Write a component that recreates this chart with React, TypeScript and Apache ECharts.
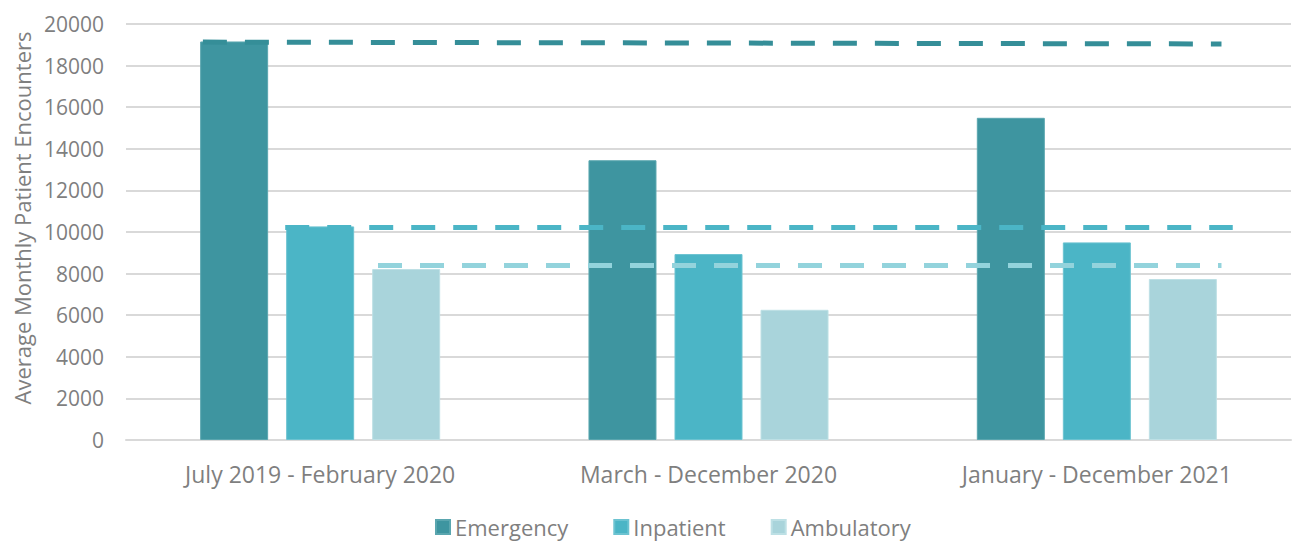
import React, { useEffect, useRef } from "react";
import * as echarts from "echarts";

const categories = ["July 2019 - February 2020", "March - December 2020", "January - December 2021"];
const emergency = [19160, 13450, 15490];
const inpatient = [10270, 8940, 9500];
const ambulatory = [8220, 6260, 7740];
const emergencyBaseline = [19130, 19040];
const inpatientBaseline = [10220, 10220];
const ambulatoryBaseline = [8390, 8390];
const yTicks = { min: 0, max: 20000, interval: 2000 };

const FONT = "'Open Sans', sans-serif";
const GRAY = "#7f7f7f";

export default function App() {
  const ref = useRef<HTMLDivElement>(null);
  useEffect(() => {
    document.body.style.margin = "0";
    const chart = echarts.init(ref.current!, null, { renderer: "svg" });
    const lineSeries = (name: string, vals: number[], x0: number, x1: number, color: string) => ({
      name,
      type: "line",
      xAxisIndex: 1,
      showSymbol: false,
      symbol: "none",
      data: [[x0, vals[0]], [x1, vals[1]]],
      lineStyle: { color, width: 5, type: [24, 18] },
      z: 5,
      silent: true,
    });
    chart.setOption({
      animation: false,
      textStyle: { fontFamily: FONT },
      grid: { left: 126, right: 3, top: 24, bottom: 102, containLabel: false },
      legend: {
        data: ["Emergency", "Inpatient", "Ambulatory"],
        top: 516,
        left: 435,
        icon: "rect",
        itemWidth: 14,
        itemHeight: 14,
        itemGap: 45,
        padding: 0,
        textStyle: { fontSize: 22, color: GRAY, fontFamily: FONT },
      },
      xAxis: [
        {
          type: "category",
          data: categories,
          axisLine: { show: true, lineStyle: { color: "#d9d9d9", width: 2 } },
          axisTick: { show: false },
          axisLabel: { fontSize: 23, color: GRAY, margin: 22, fontFamily: FONT },
        },
        {
          type: "value",
          min: -0.5,
          max: 2.5,
          show: false,
        },
      ],
      yAxis: {
        type: "value",
        min: yTicks.min,
        max: yTicks.max,
        interval: yTicks.interval,
        name: "Average Monthly Patient Encounters",
        nameLocation: "middle",
        nameGap: 92,
        nameTextStyle: { fontSize: 22, color: GRAY, fontFamily: FONT, padding: [0, 0, 0, 28] },
        axisLine: { show: false },
        axisTick: { show: false },
        axisLabel: { fontSize: 21, color: GRAY, margin: 22, fontFamily: FONT, formatter: (v: number) => String(v) },
        splitLine: { lineStyle: { color: "#d9d9d9", width: 2 } },
      },
      series: [
        {
          name: "Emergency",
          type: "bar",
          data: emergency,
          barWidth: 68,
          barGap: "26.5%",
          itemStyle: { color: "#3e95a0", borderColor: "#5aa6af", borderWidth: 1 },
        },
        {
          name: "Inpatient",
          type: "bar",
          data: inpatient,
          barWidth: 68,
          barGap: "26.5%",
          itemStyle: { color: "#4bb5c6", borderColor: "#6cc3d1", borderWidth: 1 },
        },
        {
          name: "Ambulatory",
          type: "bar",
          data: ambulatory,
          barWidth: 68,
          barGap: "26.5%",
          itemStyle: { color: "#a9d4db", borderColor: "#bde0e5", borderWidth: 1 },
        },
        lineSeries("Emergency baseline", emergencyBaseline, -0.302, 2.321, "#358e98"),
        lineSeries("Inpatient baseline", inpatientBaseline, -0.09, 2.35, "#4bb5c6"),
        lineSeries("Ambulatory baseline", ambulatoryBaseline, 0.149, 2.321, "#93d3dc"),
      ],
    });
    return () => chart.dispose();
  }, []);
  return <div ref={ref} style={{ width: 1294, height: 542 }} />;
}
